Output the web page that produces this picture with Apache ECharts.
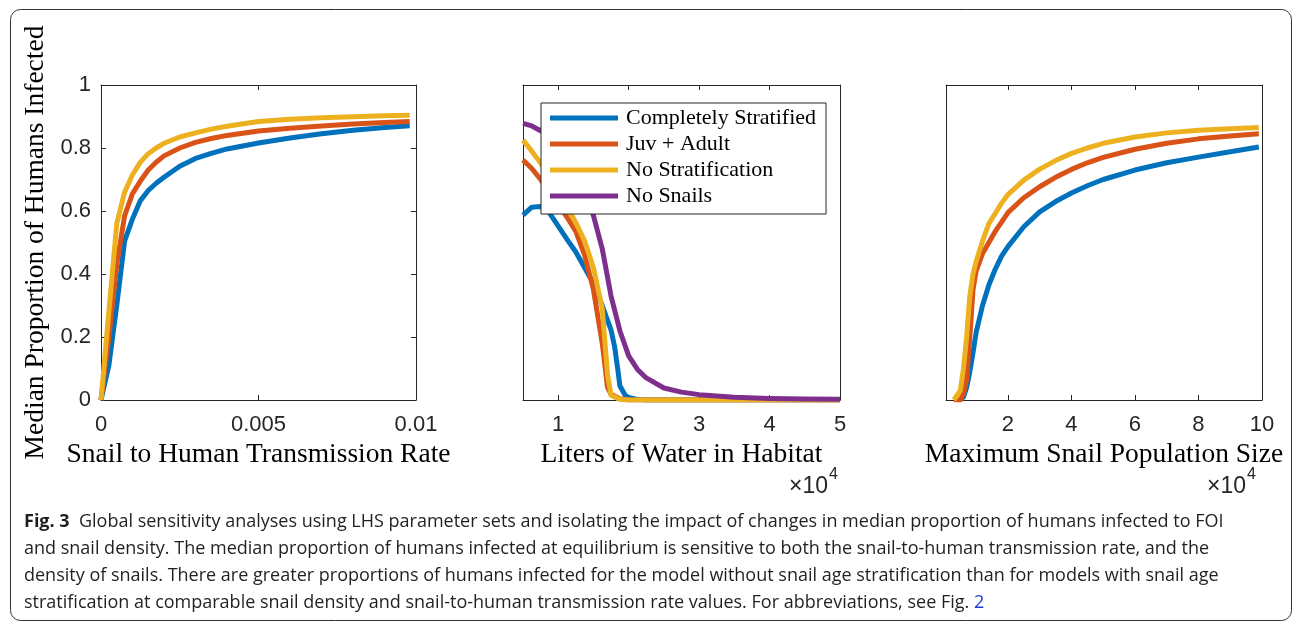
<!DOCTYPE html>
<html><head><meta charset="utf-8">
<script src="https://cdn.jsdelivr.net/npm/echarts@6/dist/echarts.min.js"></script>
<style>html,body{margin:0;padding:0;background:#fff}#c{width:1296px;height:623px}</style>
</head><body><div id="c"></div>
<script>
// ---------- data ----------
const seriesNames = ['Completely Stratified', 'Juv + Adult', 'No Stratification', 'No Snails'];

// Panel 1: Snail to Human Transmission Rate
const p1X = [0, 0.00025, 0.0005, 0.00075, 0.001, 0.00125, 0.0015, 0.00175, 0.002, 0.0025, 0.003, 0.0035, 0.004, 0.005, 0.006, 0.007, 0.008, 0.009, 0.0098];
const p1Complete = [0, 0.11, 0.30, 0.505, 0.575, 0.633, 0.665, 0.688, 0.707, 0.742, 0.767, 0.783, 0.797, 0.816, 0.832, 0.845, 0.856, 0.865, 0.871];
const p1JuvAdult = [0, 0.20, 0.43, 0.585, 0.655, 0.695, 0.730, 0.755, 0.775, 0.800, 0.818, 0.830, 0.840, 0.854, 0.863, 0.870, 0.876, 0.881, 0.884];
const p1NoStrat  = [0, 0.28, 0.56, 0.660, 0.715, 0.755, 0.782, 0.800, 0.815, 0.835, 0.848, 0.860, 0.869, 0.884, 0.891, 0.896, 0.899, 0.902, 0.904];

// Panel 2: Liters of Water in Habitat (x 10^4)
const p2CompleteX = [0.5, 0.625, 0.75, 0.875, 1.0, 1.125, 1.25, 1.375, 1.5, 1.625, 1.75, 1.8, 1.85, 1.875, 1.95, 2.0, 2.125, 2.25, 3, 4, 5];
const p2Complete  = [0.587, 0.612, 0.614, 0.594, 0.552, 0.510, 0.470, 0.420, 0.370, 0.300, 0.222, 0.170, 0.090, 0.045, 0.015, 0.008, 0.002, 0, 0, 0, 0];
const p2JuvAdultX = [0.5, 0.625, 0.75, 0.875, 1.0, 1.125, 1.25, 1.375, 1.5, 1.625, 1.7, 1.75, 1.875, 2.0, 3, 4, 5];
const p2JuvAdult  = [0.762, 0.735, 0.700, 0.660, 0.620, 0.580, 0.535, 0.460, 0.350, 0.180, 0.040, 0.018, 0.004, 0, 0, 0, 0];
const p2NoStratX  = [0.5, 0.625, 0.75, 0.875, 1.0, 1.125, 1.25, 1.375, 1.5, 1.625, 1.7, 1.75, 1.875, 2.0, 3, 4, 5];
const p2NoStrat   = [0.825, 0.790, 0.752, 0.710, 0.665, 0.615, 0.562, 0.505, 0.420, 0.290, 0.080, 0.015, 0.002, 0, 0, 0, 0];
const p2NoSnailsX = [0.5, 0.625, 0.75, 0.875, 1.0, 1.125, 1.25, 1.375, 1.5, 1.625, 1.75, 1.875, 2.0, 2.125, 2.25, 2.5, 2.75, 3.0, 3.5, 4.0, 4.5, 5.0];
const p2NoSnails  = [0.878, 0.870, 0.855, 0.840, 0.820, 0.790, 0.740, 0.670, 0.585, 0.480, 0.330, 0.220, 0.140, 0.097, 0.070, 0.038, 0.025, 0.017, 0.009, 0.005, 0.003, 0.002];

// Panel 3: Maximum Snail Population Size (x 10^4)
const p3X = [0.3, 0.5, 0.6, 0.7, 0.8, 0.9, 1.0, 1.2, 1.4, 1.6, 1.8, 2.0, 2.5, 3.0, 3.5, 4.0, 4.5, 5.0, 6.0, 7.0, 8.0, 9.0, 9.9];
const p3Complete = [null, 0, 0.010, 0.040, 0.090, 0.150, 0.215, 0.300, 0.365, 0.415, 0.457, 0.487, 0.550, 0.597, 0.630, 0.657, 0.680, 0.700, 0.730, 0.753, 0.771, 0.788, 0.803];
const p3JuvAdult = [0, 0, 0.020, 0.065, 0.200, 0.350, 0.410, 0.465, 0.500, 0.535, 0.565, 0.595, 0.642, 0.677, 0.707, 0.732, 0.753, 0.770, 0.796, 0.815, 0.829, 0.838, 0.845];
const p3NoStrat  = [0, 0.030, 0.100, 0.200, 0.330, 0.400, 0.440, 0.505, 0.560, 0.592, 0.625, 0.652, 0.698, 0.733, 0.760, 0.783, 0.800, 0.815, 0.835, 0.848, 0.856, 0.861, 0.865];

// Axes / ticks
const p1XTicks = [0, 0.005, 0.01];
const p1XTickLabels = ['0', '0.005', '0.01'];
const p2XTicks = [1, 2, 3, 4, 5];
const p2XTickLabels = ['1', '2', '3', '4', '5'];
const p3XTicks = [2, 4, 6, 8, 10];
const p3XTickLabels = ['2', '4', '6', '8', '10'];
const yTicks = [0, 0.2, 0.4, 0.6, 0.8, 1];
const yTickLabels = ['0', '0.2', '0.4', '0.6', '0.8', '1'];

const xTitles = ['Snail to Human Transmission Rate', 'Liters of Water in Habitat', 'Maximum Snail Population Size'];
const yTitle = 'Median Proportion of Humans Infected';
const captionLines = [
  '{b|Fig. 3}  Global sensitivity analyses using LHS parameter sets and isolating the impact of changes in median proportion of humans infected to FOI',
  'and snail density. The median proportion of humans infected at equilibrium is sensitive to both the snail-to-human transmission rate, and the',
  'density of snails. There are greater proportions of humans infected for the model without snail age stratification than for models with snail age',
  'stratification at comparable snail density and snail-to-human transmission rate values. For abbreviations, see Fig. {l|2}'
];

// ---------- styles ----------
const colors = ['#0072BD', '#D95319', '#EDB120', '#7E2F8E'];
const axisColor = '#262626';
const serif = '"Liberation Serif", "DejaVu Serif", serif';
const sans = '"Liberation Sans", Arial, sans-serif';
const capSans = '"Open Sans", "Noto Sans", sans-serif';

const grids = [
  { left: 101, top: 85, width: 315, height: 315 },
  { left: 523, top: 85, width: 317, height: 315 },
  { left: 946, top: 85, width: 316, height: 315 }
];
const xRanges = [[0, 0.01], [0.5, 5], [0.05, 10]];
const xTickSets = [[p1XTicks, p1XTickLabels], [p2XTicks, p2XTickLabels], [p3XTicks, p3XTickLabels]];

function lab(ticks, labels) {
  return function (v) {
    for (let i = 0; i < ticks.length; i++) if (Math.abs(ticks[i] - v) < 1e-9) return labels[i];
    return '';
  };
}
const axisLine = { show: true, onZero: false, lineStyle: { color: axisColor, width: 1 } };

const xAxes = [], yAxes = [];
grids.forEach((g, gi) => {
  const [ticks, labels] = xTickSets[gi];
  const common = {
    type: 'value', gridIndex: gi, min: xRanges[gi][0], max: xRanges[gi][1],
    axisLine: axisLine, splitLine: { show: false }
  };
  xAxes.push(Object.assign({}, common, {
    position: 'bottom',
    axisTick: { show: true, inside: true, length: 5, lineStyle: { color: axisColor }, customValues: ticks },
    axisLabel: { show: true, customValues: ticks, formatter: lab(ticks, labels), margin: 14,
      fontFamily: sans, fontSize: 22, color: axisColor },
    name: xTitles[gi], nameLocation: 'middle', nameGap: 41,
    nameTextStyle: { fontFamily: serif, fontSize: 27.5, color: '#000' }
  }));
  xAxes.push(Object.assign({}, common, {
    position: 'top',
    axisTick: { show: true, inside: true, length: 5, lineStyle: { color: axisColor }, customValues: ticks },
    axisLabel: { show: false, customValues: ticks }
  }));
  const yCommon = { type: 'value', gridIndex: gi, min: 0, max: 1, interval: 0.2, axisLine: axisLine, splitLine: { show: false } };
  if (gi === 0) {
    yAxes.push(Object.assign({}, yCommon, {
      position: 'left',
      axisTick: { show: true, inside: true, length: 5, lineStyle: { color: axisColor } },
      axisLabel: { show: true, formatter: lab(yTicks, yTickLabels), margin: 10, fontFamily: sans, fontSize: 22, color: axisColor },
      name: yTitle, nameLocation: 'middle', nameRotate: 90, nameGap: 51,
      nameTextStyle: { fontFamily: serif, fontSize: 27.5, color: '#000' }
    }));
    yAxes.push(Object.assign({}, yCommon, {
      position: 'right',
      axisTick: { show: true, inside: true, length: 5, lineStyle: { color: axisColor } },
      axisLabel: { show: false }
    }));
  } else {
    yAxes.push(Object.assign({}, yCommon, { position: 'left', axisTick: { show: false }, axisLabel: { show: false } }));
    yAxes.push(Object.assign({}, yCommon, { position: 'right', axisTick: { show: false }, axisLabel: { show: false } }));
  }
});

function line(name, xs, ys, gi, ci) {
  return {
    type: 'line', name: name, xAxisIndex: gi * 2, yAxisIndex: gi * 2,
    data: xs.map((x, i) => [x, ys[i]]).filter(p => p[1] !== null),
    symbol: 'none', showSymbol: false, smooth: false, clip: true,
    lineStyle: { width: 5, color: colors[ci], cap: 'butt', join: 'round' },
    itemStyle: { color: colors[ci] }, z: 2 + ci, animation: false
  };
}

const series = [
  line(seriesNames[0], p1X, p1Complete, 0, 0),
  line(seriesNames[1], p1X, p1JuvAdult, 0, 1),
  line(seriesNames[2], p1X, p1NoStrat, 0, 2),
  line(seriesNames[0], p2CompleteX, p2Complete, 1, 0),
  line(seriesNames[1], p2JuvAdultX, p2JuvAdult, 1, 1),
  line(seriesNames[2], p2NoStratX, p2NoStrat, 1, 2),
  line(seriesNames[3], p2NoSnailsX, p2NoSnails, 1, 3),
  line(seriesNames[0], p3X, p3Complete, 2, 0),
  line(seriesNames[1], p3X, p3JuvAdult, 2, 1),
  line(seriesNames[2], p3X, p3NoStrat, 2, 2)
];

const capSize = 18;
const graphic = [
  { type: 'rect', silent: true, shape: { x: 10.5, y: 9.5, width: 1281, height: 611, r: 10 },
    style: { fill: 'none', stroke: '#333', lineWidth: 1 }, z: 0 },
  { type: 'text', x: 828, y: 487, style: { text: '\u00d710', fontFamily: sans, fontSize: 23, fill: axisColor, align: 'right', verticalAlign: 'middle' } },
  { type: 'text', x: 829, y: 475, style: { text: '4', fontFamily: sans, fontSize: 16, fill: axisColor, align: 'left', verticalAlign: 'middle' } },
  { type: 'text', x: 1246, y: 487, style: { text: '\u00d710', fontFamily: sans, fontSize: 23, fill: axisColor, align: 'right', verticalAlign: 'middle' } },
  { type: 'text', x: 1247, y: 475, style: { text: '4', fontFamily: sans, fontSize: 16, fill: axisColor, align: 'left', verticalAlign: 'middle' } }
];
const captionY = [522, 549, 576, 603];
captionLines.forEach((t, i) => {
  graphic.push({ type: 'text', x: 24, y: captionY[i], style: {
    text: t, align: 'left', verticalAlign: 'middle',
    fontFamily: capSans, fontSize: capSize, fill: '#231f20',
    rich: {
      b: { fontFamily: capSans, fontSize: capSize, fontWeight: 'bold', fill: '#231f20' },
      l: { fontFamily: capSans, fontSize: capSize, fill: '#1a3cd6' }
    }
  } });
});

const chart = echarts.init(document.getElementById('c'), null, { renderer: 'canvas' });
chart.setOption({
  animation: false,
  backgroundColor: '#fff',
  grid: grids,
  xAxis: xAxes,
  yAxis: yAxes,
  legend: {
    show: true, data: seriesNames, orient: 'vertical', left: 541, top: 103,
    padding: [4, 10, 7, 9], itemGap: 4, itemWidth: 68, itemHeight: 5, icon: 'rect',
    backgroundColor: '#fff', borderColor: axisColor, borderWidth: 1, borderRadius: 0,
    selectedMode: false, z: 20,
    textStyle: { fontFamily: serif, fontSize: 22, lineHeight: 22, color: '#000', padding: [0, 0, 0, 3] }
  },
  series: series,
  graphic: graphic
});
</script>
</body></html>
